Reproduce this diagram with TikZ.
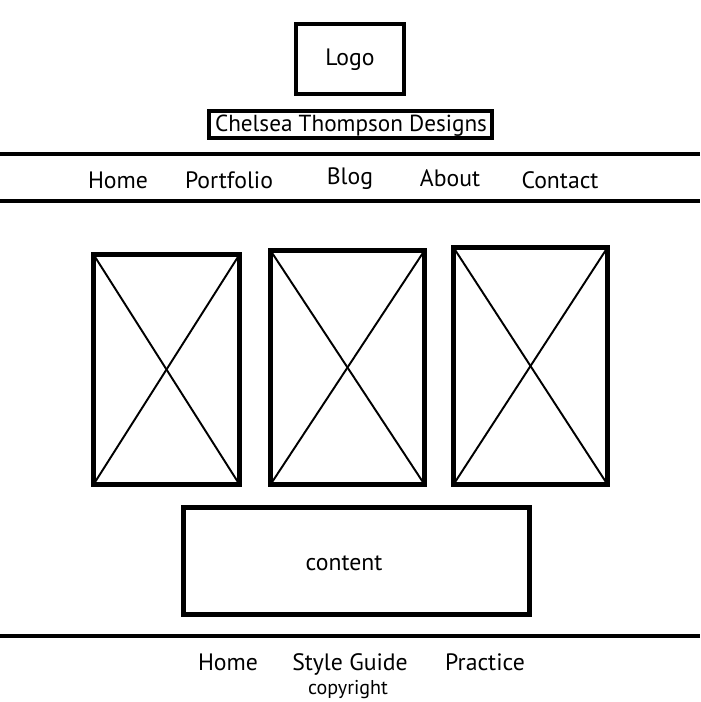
\documentclass[tikz,border=0pt]{standalone}
\usepackage{fontspec}
\setmainfont{PT Sans}
\usetikzlibrary{positioning}

\begin{document}
\begin{tikzpicture}[x=0.02cm,y=-0.02cm,
  box/.style={draw,rectangle,outer sep=0pt,inner sep=0pt,line width=2.3pt},
  img/.style={box,line width=2.85pt,minimum width=3.08cm},
  cross/.style={line width=1.1pt},
  rule/.style={line width=2.2pt},
  nav/.style={font=\fontsize{13.5}{15}\selectfont},
  foot/.style={font=\fontsize{11.4}{13}\selectfont}]

  \useasboundingbox (0,0) rectangle (700,702);

  % header
  \node[box,minimum width=2.16cm,minimum height=1.4cm] (logo) at (350,59) {};
  \node[nav] (logotxt) at (350,60) {Logo};
  \node[box,line width=2pt,minimum width=5.66cm,minimum height=0.54cm] (title) at (350.5,124.5) {};
  \node[nav,font=\fontsize{13.2}{15}\selectfont] (titletxt) at (351,126) {Chelsea Thompson Designs};

  % menu
  \coordinate (menuTL) at (0,154);
  \coordinate (menuTR) at (700,154);
  \coordinate (menuBL) at (0,201);
  \coordinate (menuBR) at (700,201);
  \draw[rule] (menuTL) -- (menuTR);
  \draw[rule] (menuBL) -- (menuBR);

  \node[nav] (home) at (118,180) {Home};
  \node[nav] (portfolio) at (229,180) {Portfolio};
  \node[nav] (blog) at (350,179) {Blog};
  \node[nav] (about) at (450,178) {About};
  \node[nav] (contact) at (560,180) {Contact};

  % images
  \node[img,minimum width=2.92cm,minimum height=4.6cm] (p1) at (166.5,369.5) {};
  \node[img,minimum width=3.08cm,minimum height=4.68cm] (p2) at (347.5,367.5) {};
  \node[img,minimum width=3.08cm,minimum height=4.74cm] (p3) at (530.5,366) {};
  \foreach \p in {p1,p2,p3} {
    \draw[cross] (\p.north west) -- (\p.south east);
    \draw[cross] (\p.north east) -- (\p.south west);
  }

  \node[box,line width=2.85pt,minimum width=6.92cm,minimum height=2.14cm] (content) at (356.5,561) {};
  \node[nav] (contenttxt) at (344,563) {content};

  % footer
  \coordinate (footL) at (0,636);
  \coordinate (footR) at (700,636);
  \draw[rule] (footL) -- (footR);

  \node[nav] (fhome) at (228,662) {Home};
  \node[nav] (style) at (350,664) {Style Guide};
  \node[nav] (practice) at (485,662) {Practice};
  \node[foot] (copy) at (348,690) {copyright};
\end{tikzpicture}
\end{document}
